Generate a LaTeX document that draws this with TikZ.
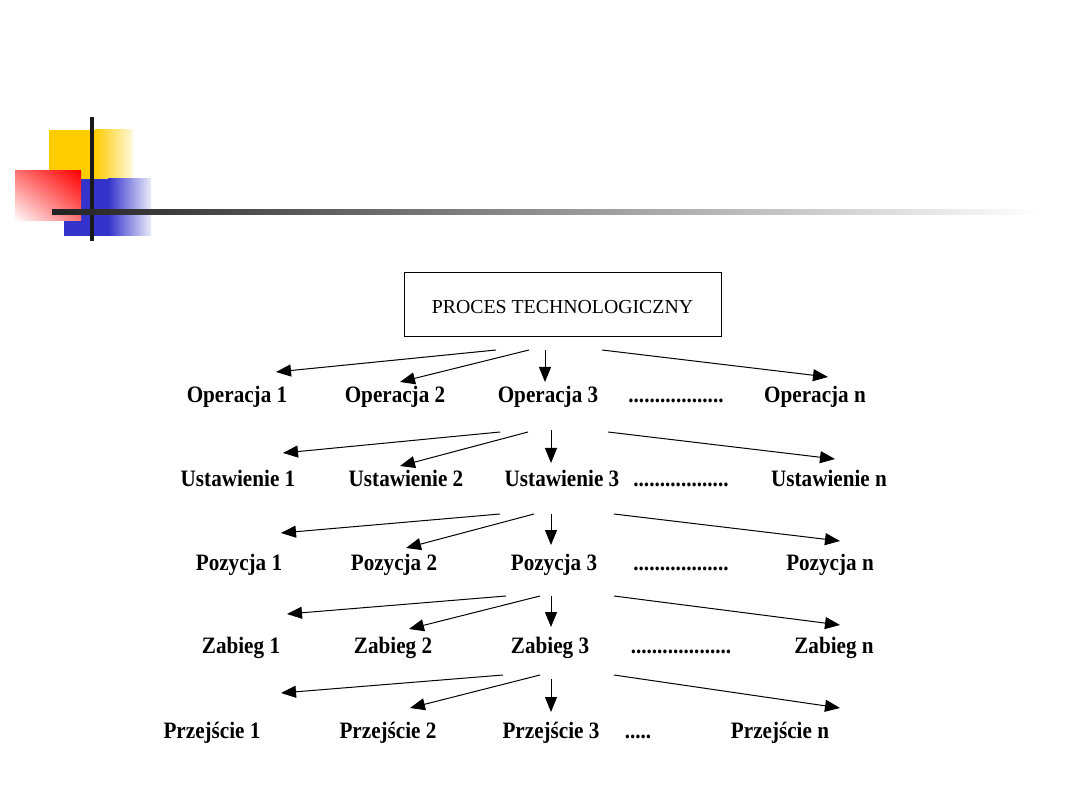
\documentclass[tikz,border=0pt]{standalone}
\usepackage{fontspec}
\setmainfont{Liberation Serif}
\newfontfamily\lblfont{Liberation Serif}[FakeStretch=0.9]
\newfontfamily\titlefont{Liberation Serif}
\usetikzlibrary{arrows.meta,shadings}
\definecolor{logoyellow}{HTML}{FFCC00}
\definecolor{logored}{HTML}{FF0000}
\definecolor{logoblue}{HTML}{3333CC}
\definecolor{bardark}{HTML}{222222}
\newcommand{\dotsA}{..................}
\newcommand{\dotsB}{...................}
\newcommand{\dotsC}{.....}
\tikzset{
  lbl/.style={anchor=base, inner sep=0pt, font=\lblfont\bfseries\fontsize{23.5pt}{28pt}\selectfont},
  conn/.style={line width=1pt, -{Triangle[length=15pt,width=12pt]}},
  titlebox/.style={draw, line width=0.8pt, minimum width=317pt, minimum height=64pt, inner sep=0pt, text height=20pt, text depth=0pt, font=\titlefont\fontsize{19.8pt}{23pt}\selectfont}
}
\begin{document}
\begin{tikzpicture}[x=1pt,y=-1pt]
\useasboundingbox[fill=white] (0,0) rectangle (1080,810);
% logo
\fill[logoyellow] (49,130) rectangle (96,180);
\shade[left color=logoyellow, right color=logoyellow!12!white] (95,130) rectangle (133,180);
\fill[logoblue] (64,179) rectangle (109,236);
\shade[left color=logoblue, right color=logoblue!10!white] (108,179) rectangle (151,236);
\shade[upper right=logored, lower left=white, upper left=logored!55!white, lower right=logored!55!white] (15,171) rectangle (81,221);
\fill[black!90] (90,117) rectangle (94,241);
\shade[left color=bardark, right color=white] (52,210) rectangle (1040,215);
% title
\node[titlebox] (pt) at (562.5,304) {PROCES TECHNOLOGICZNY};
% rows
\foreach \nm/\word/\base/\xa/\xb/\xc/\xd/\xe/\dd in {
  op/Operacja/403/237/395/548/676/815/\dotsA,
  us/Ustawienie/486/238/406/562/681/829/\dotsA,
  po/Pozycja/570/239/394/554/681/830/\dotsA,
  za/Zabieg/653/241/393/550/681/834/\dotsB,
  pr/Przejście/738/212/388/551/638/780/\dotsC}{
  \node[lbl] (\nm1) at (\xa,\base) {\word\ 1};
  \node[lbl] (\nm2) at (\xb,\base) {\word\ 2};
  \node[lbl] (\nm3) at (\xc,\base) {\word\ 3};
  \node[lbl] (\nm d) at (\xd,\base) {\dd};
  \node[lbl] (\nm n) at (\xe,\base) {\word\ n};
}
% arrow start/end coordinates
\foreach \r/\ya/\yb/\sa/\sb/\sc/\sd/\ea/\eya/\eb/\eyb/\ec/\eyc/\ed/\eyd in {
  1/350/350/496/529/545/602/276/372/400/382/545/382/828/377,
  2/432/430/500/528/551/608/283/453/400/466/551/463/835/459,
  3/514/514/500/534/551/614/281/533/406/548/551/545/840/541,
  4/596/596/506/540/551/614/287/614/409/629/551/627/840/625,
  5/675/679/503/540/551/614/281/693/410/708/551/712/840/708}{
  \coordinate (s\r a) at (\sa,\ya);
  \coordinate (s\r b) at (\sb,\ya);
  \coordinate (s\r c) at (\sc,\yb);
  \coordinate (s\r d) at (\sd,\ya);
  \coordinate (e\r a) at (\ea,\eya);
  \coordinate (e\r b) at (\eb,\eyb);
  \coordinate (e\r c) at (\ec,\eyc);
  \coordinate (e\r d) at (\ed,\eyd);
  \draw[conn] (s\r a) -- (e\r a);
  \draw[conn] (s\r b) -- (e\r b);
  \draw[conn] (s\r c) -- (e\r c);
  \draw[conn] (s\r d) -- (e\r d);
}
\end{tikzpicture}
\end{document}
